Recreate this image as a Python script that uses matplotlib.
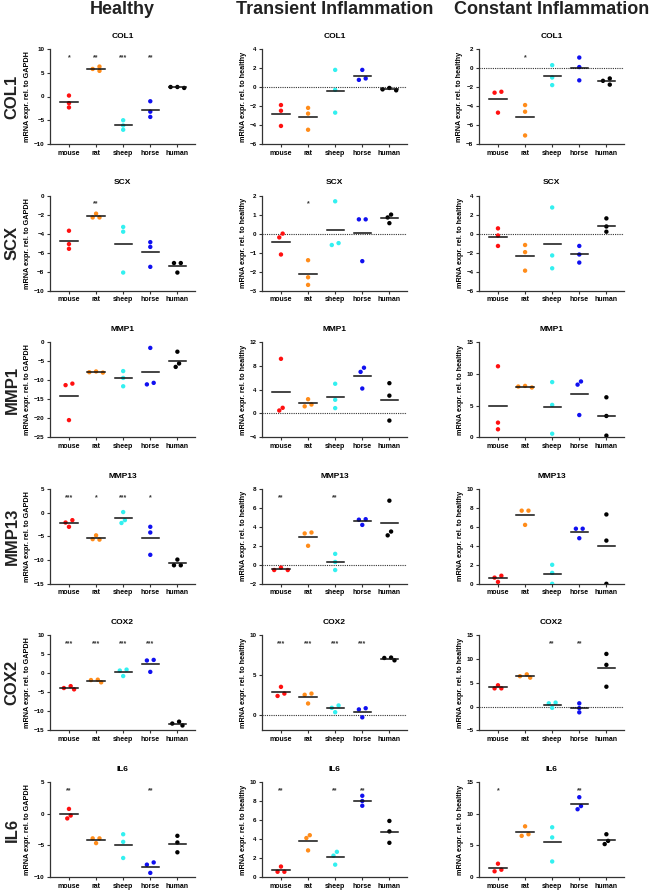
import numpy as np
import matplotlib.pyplot as plt

plt.rcParams['font.family'] = ['Liberation Sans', 'DejaVu Sans']
plt.rcParams['font.weight'] = 'bold'

species = ['mouse', 'rat', 'sheep', 'horse', 'human']
colors = ['#ff1010', '#ff8c1a', '#33f0f0', '#1010f0', '#000000']
conditions = ['Healthy', 'Transient Inflammation', 'Constant Inflammation']
genes = ['COL1', 'SCX', 'MMP1', 'MMP13', 'COX2', 'IL6']
ylabels = ['mRNA expr. rel. to GAPDH', 'mRNA expr. rel. to healthy', 'mRNA expr. rel. to healthy']

# values per species (mouse, rat, sheep, horse, human), 3 donors each
col1_healthy = [[0.2, -1.4, -2.3], [6.3, 5.8, 5.4], [-5.0, -6.1, -7.0], [-1.0, -3.2, -4.3], [1.8, 2.0, 2.0]]
col1_transient = [[-1.9, -2.5, -4.1], [-2.2, -2.8, -4.5], [1.8, -0.3, -2.7], [1.8, 0.75, 0.9], [-0.1, -0.35, -0.25]]
col1_constant = [[-2.5, -2.6, -4.7], [-3.9, -4.6, -7.1], [0.3, -1.0, -1.8], [1.1, 0.1, -1.3], [-1.1, -1.75, -1.35]]

scx_healthy = [[-3.7, -5.1, -5.6], [-1.9, -2.3, -2.3], [-3.3, -3.8, -8.1], [-4.9, -5.4, -7.5], [-7.1, -7.1, -8.1]]
scx_transient = [[0.0, -0.2, -1.1], [-1.4, -2.3, -2.7], [1.7, -0.6, -0.5], [0.75, 0.75, -1.45], [1.0, 0.85, 0.55]]
scx_constant = [[0.55, -0.2, -1.3], [-1.2, -1.95, -3.9], [2.75, -2.3, -3.65], [-1.3, -2.2, -3.05], [1.6, 0.75, 0.2]]

mmp1_healthy = [[-10.9, -11.3, -20.5], [-8.0, -7.7, -7.9], [-7.6, -9.4, -11.6], [-1.5, -11.1, -10.7], [-2.5, -6.5, -5.6]]
mmp1_transient = [[9.2, 0.5, 0.95], [2.4, 1.2, 1.5], [5.0, 2.3, 0.9], [7.7, 7.0, 4.2], [5.1, 3.0, -1.2]]
mmp1_constant = [[11.2, 2.3, 1.25], [7.85, 8.1, 8.0], [8.7, 5.1, 0.55], [8.8, 8.3, 3.5], [6.3, 3.35, 0.25]]

mmp13_healthy = [[-1.6, -2.1, -3.0], [-4.8, -5.7, -5.6], [0.1, -2.2, -1.6], [-3.0, -4.2, -8.9], [-9.9, -11.1, -11.1]]
mmp13_transient = [[-0.55, -0.3, -0.55], [3.4, 3.3, 2.0], [1.15, 0.3, -0.55], [4.8, 4.75, 4.2], [6.75, 3.1, 3.5]]
mmp13_constant = [[0.85, 0.65, 0.2], [7.7, 7.7, 6.2], [2.0, 1.15, 0.0], [5.8, 5.8, 4.8], [7.3, 4.55, 0.0]]

cox2_healthy = [[-4.2, -3.35, -3.85], [-2.35, -1.65, -1.75], [1.0, 0.75, -0.7], [3.55, 3.4, 0.4], [-12.7, -13.7, -13.2]]
cox2_transient = [[3.5, 2.35, 2.65], [2.65, 2.5, 1.4], [1.15, 0.85, 0.3], [0.8, 0.65, -0.35], [6.85, 7.2, 7.15]]
cox2_constant = [[4.5, 3.85, 3.85], [6.8, 6.1, 6.4], [0.85, 0.7, -0.25], [0.7, -0.3, -1.2], [11.1, 8.8, 4.2]]

il6_healthy = [[0.75, -0.75, -0.3], [-3.9, -3.9, -4.65], [-3.25, -4.45, -7.0], [-7.7, -8.05, -9.35], [-3.5, -4.55, -6.1]]
il6_transient = [[1.1, 0.55, 0.55], [4.4, 4.1, 2.8], [2.65, 2.25, 1.3], [8.55, 8.0, 7.5], [5.9, 4.8, 3.6]]
il6_constant = [[2.1, 0.9, 1.15], [8.0, 6.5, 6.75], [7.85, 6.25, 2.45], [12.6, 10.7, 11.2], [6.75, 5.2, 5.7]]

# significance marks
none5 = ['', '', '', '', '']
col1_stars = [['*', '**', '***', '**', ''], none5, ['', '*', '', '', '']]
scx_stars = [['', '**', '', '', ''], ['', '*', '', '', ''], none5]
mmp1_stars = [none5, none5, none5]
mmp13_stars = [['***', '*', '***', '*', ''], ['**', '', '**', '', ''], none5]
cox2_stars = [['***', '***', '***', '***', ''], ['***', '***', '***', '***', ''], ['', '', '**', '**', '']]
il6_stars = [['**', '', '', '**', ''], ['**', '', '**', '**', ''], ['*', '', '', '**', '']]

# axis ranges (ymin, ymax, step)
col1_lims = [(-10, 10, 5), (-6, 4, 2), (-8, 2, 2)]
scx_lims = [(-10, 0, 2), (-3, 2, 1), (-6, 4, 2)]
mmp1_lims = [(-25, 0, 5), (-4, 12, 4), (0, 15, 5)]
mmp13_lims = [(-15, 5, 5), (-2, 8, 2), (0, 10, 2)]
cox2_lims = [(-15, 10, 5), (-2, 10, 5), (-5, 15, 5)]
il6_lims = [(-10, 5, 5), (0, 10, 2), (0, 15, 5)]

data = [[col1_healthy, col1_transient, col1_constant],
        [scx_healthy, scx_transient, scx_constant],
        [mmp1_healthy, mmp1_transient, mmp1_constant],
        [mmp13_healthy, mmp13_transient, mmp13_constant],
        [cox2_healthy, cox2_transient, cox2_constant],
        [il6_healthy, il6_transient, il6_constant]]
stars = [col1_stars, scx_stars, mmp1_stars, mmp13_stars, cox2_stars, il6_stars]
lims = [col1_lims, scx_lims, mmp1_lims, mmp13_lims, cox2_lims, il6_lims]

W, H = 660, 891
lefts = [50, 262, 479]
aw, ah = 145, 95
xlo, xhi = -0.7, 4.65


def swarm(vals, ppu, ppx, diam=4.2, step=3.4):
    # simple beeswarm: spread overlapping dots sideways (pixel space)
    vals = np.asarray(vals, dtype=float)
    order = list(np.argsort(-vals))
    groups = [[order[0]]]
    for a, b in zip(order[:-1], order[1:]):
        if (vals[a] - vals[b]) * ppu < diam:
            groups[-1].append(b)
        else:
            groups.append([b])
    off = np.zeros(len(vals))
    for g in groups:
        placed = []
        for i in g:
            y = vals[i] * ppu
            for k in [0, -1, 1, -2, 2, -3, 3]:
                x = k * step
                if all(np.hypot(x - px, y - py) >= diam for px, py in placed):
                    break
            placed.append((x, y))
            off[i] = x
        xs = [p[0] for p in placed]
        shift = (min(xs) + max(xs)) / 2
        for i in g:
            off[i] -= shift
    return off / ppx


fig = plt.figure(figsize=(W / 100, H / 100), dpi=100)

for c, name in enumerate(conditions):
    fig.text((lefts[c] + aw / 2) / W, 1 - 9 / H, name, ha='center', va='center',
             fontsize=13, fontweight='bold', color='#222222')

for r, gene in enumerate(genes):
    top = 49 + 146.6 * r
    fig.text(12 / W, 1 - (top + ah / 2) / H, gene, rotation=90, ha='center', va='center',
             fontsize=12, fontweight='bold', color='#222222')
    for c in range(3):
        ax = fig.add_axes([lefts[c] / W, 1 - (top + ah) / H, aw / W, ah / H])
        ymin, ymax, ystep = lims[r][c]
        ax.set_ylim(ymin, ymax)
        ax.set_xlim(xlo, xhi)
        ppu = ah / (ymax - ymin)
        ppx = aw / (xhi - xlo)
        if c > 0 and ymin < 0:
            ax.axhline(0, color='#333333', lw=0.8, ls=(0, (1, 1)), zorder=1)
        for i, vals in enumerate(data[r][c]):
            off = swarm(vals, ppu, ppx)
            ax.scatter(i + off, vals, s=10, color=colors[i], edgecolors='none', zorder=3)
            m = np.mean(vals)
            ax.plot([i - 0.32, i + 0.32], [m, m], color='#111111', lw=1.1, zorder=4)
            if stars[r][c][i]:
                ax.text(i, ymin + 0.91 * (ymax - ymin), stars[r][c][i], ha='center', va='center',
                        fontsize=5, color='#333333')
        ax.set_yticks(np.arange(0 if (r == 4 and c == 1) else ymin, ymax + 0.01, ystep))
        ax.set_xticks(range(5))
        ax.set_xticklabels(species)
        ax.tick_params(axis='y', labelsize=4.5)
        ax.tick_params(axis='x', labelsize=5.0)
        ax.tick_params(length=2.5, width=0.8, pad=1.5, color='#333333')
        for s in ['top', 'right']:
            ax.spines[s].set_visible(False)
        for s in ['left', 'bottom']:
            ax.spines[s].set_color('#333333')
            ax.spines[s].set_linewidth(0.9)
        ax.set_ylabel(ylabels[c], fontsize=5.2, fontweight='bold', labelpad=2)
        ax.set_title(gene, fontsize=6.0, fontweight='bold', pad=8.0)

fig.savefig('out.png', dpi=100)
